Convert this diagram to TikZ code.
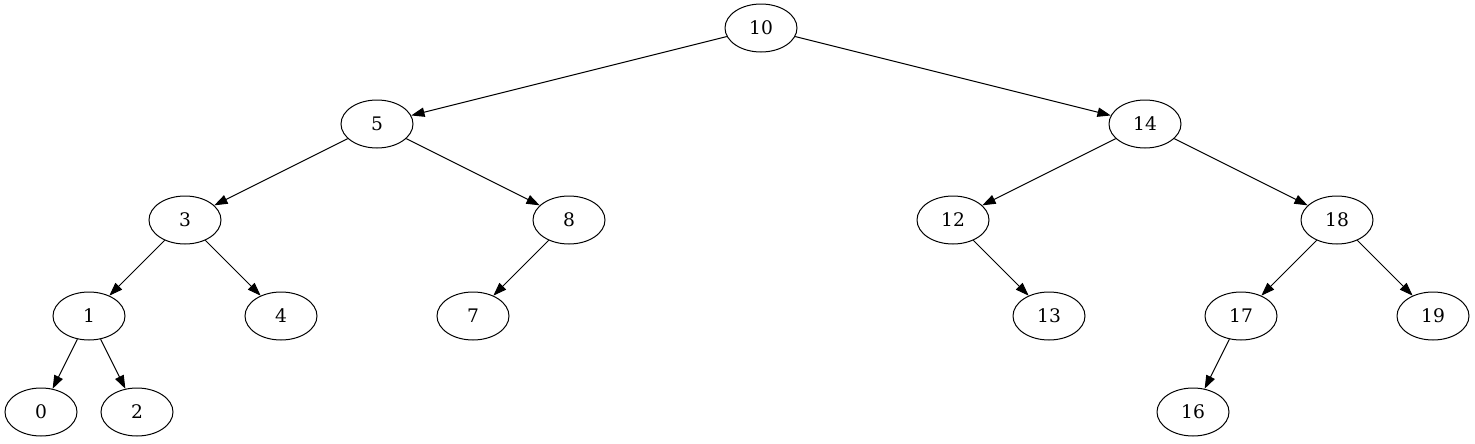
\documentclass[tikz,border=0pt]{standalone}
\usepackage{fontspec}
\setmainfont{DejaVu Serif}
\usetikzlibrary{arrows.meta,shapes.geometric}
\begin{document}
\begin{tikzpicture}[x=0.75pt,y=-0.75pt,
  tnode/.style={draw,ellipse,minimum width=54pt,minimum height=36pt,inner sep=0pt,line width=0.75pt,font=\fontsize{14pt}{16pt}\selectfont},
  edge/.style={line width=0.75pt,-{Triangle[length=10pt,width=7pt]}}]
\useasboundingbox (0,0) rectangle (1475,443);
\def\ya{28}\def\yb{124}\def\yc{220}\def\yd{316}\def\ye{412}
\node[tnode] (n10) at (761,\ya) {10};
\node[tnode] (n5) at (377,\yb) {5};
\node[tnode] (n14) at (1145,\yb) {14};
\node[tnode] (n3) at (185,\yc) {3};
\node[tnode] (n8) at (569,\yc) {8};
\node[tnode] (n12) at (953,\yc) {12};
\node[tnode] (n18) at (1337,\yc) {18};
\node[tnode] (n1) at (89,\yd) {1};
\node[tnode] (n4) at (281,\yd) {4};
\node[tnode] (n7) at (473,\yd) {7};
\node[tnode] (n13) at (1049,\yd) {13};
\node[tnode] (n17) at (1241,\yd) {17};
\node[tnode] (n19) at (1433,\yd) {19};
\node[tnode] (n0) at (41,\ye) {0};
\node[tnode] (n2) at (137,\ye) {2};
\node[tnode] (n16) at (1193,\ye) {16};
\draw[edge] (n10) -- (n5);
\draw[edge] (n10) -- (n14);
\draw[edge] (n5) -- (n3);
\draw[edge] (n5) -- (n8);
\draw[edge] (n14) -- (n12);
\draw[edge] (n14) -- (n18);
\draw[edge] (n3) -- (n1);
\draw[edge] (n3) -- (n4);
\draw[edge] (n8) -- (n7);
\draw[edge] (n12) -- (n13);
\draw[edge] (n18) -- (n17);
\draw[edge] (n18) -- (n19);
\draw[edge] (n1) -- (n0);
\draw[edge] (n1) -- (n2);
\draw[edge] (n17) -- (n16);
\end{tikzpicture}
\end{document}
